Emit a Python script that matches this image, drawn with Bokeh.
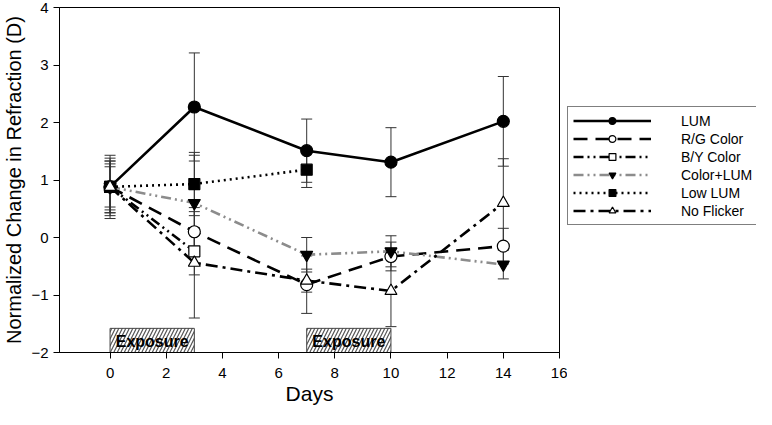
from bokeh.plotting import figure
from bokeh.layouts import row
from bokeh.models import (ColumnDataSource, Whisker, TeeHead, Legend, LegendItem,
                          Range1d, FixedTicker)
from bokeh.core.properties import value
from bokeh.embed import file_html
from bokeh.resources import INLINE

# ---------------- data ----------------
days_full = [0, 3, 7, 10, 14]
lum = [0.88, 2.27, 1.51, 1.31, 2.02]
lum_err = [0.55, 0.94, 0.55, 0.60, 0.78]

rg = [0.88, 0.10, -0.82, -0.33, -0.15]
rg_err = [0.45, 0.35, 0.50, 0.25, 0.31]

days_by = [0, 3]
by = [0.88, -0.24]
by_err = [0.40, 0.41]

colum = [0.88, 0.60, -0.30, -0.24, -0.47]
colum_err = [0.50, 0.83, 0.30, 0.27, 0.25]

days_low = [0, 3, 7]
lowlum = [0.88, 0.93, 1.18]
lowlum_err = [0.35, 0.55, 0.31]

noflk = [0.88, -0.44, -0.75, -0.93, 0.60]
noflk_err = [0.45, 0.96, 0.20, 0.62, 0.77]

exposure_start = [0, 7]
exposure_end = [3, 10]
exposure_top = [-1.58, -1.58]
exposure_label = ["Exposure", "Exposure"]

x_ticks = [0, 2, 4, 6, 8, 10, 12, 14, 16]
y_ticks = [-2, -1, 0, 1, 2, 3, 4]

FONT = "Liberation Sans"

p = figure(width=567, height=409, x_range=Range1d(-1.8, 16), y_range=Range1d(-2, 4),
           output_backend="svg", toolbar_location=None,
           min_border_left=59, min_border_right=8, min_border_top=7,
           min_border_bottom=57)
p.background_fill_color = "white"
p.border_fill_color = "white"
p.outline_line_color = "black"
p.outline_line_width = 1
p.grid.visible = False

for ax in (p.xaxis[0], p.yaxis[0]):
    ax.axis_line_color = "black"
    ax.major_tick_in = 0
    ax.major_tick_out = 6
    ax.minor_tick_line_color = None
    ax.major_label_text_font = FONT
    ax.major_label_text_font_size = "15px"
    ax.major_label_text_color = "black"
    ax.axis_label_text_font = FONT
    ax.axis_label_text_font_style = "normal"
    ax.axis_label_text_color = "black"

p.xaxis.ticker = FixedTicker(ticks=x_ticks)
p.yaxis.ticker = FixedTicker(ticks=y_ticks)
p.xaxis.axis_label = "Days"
p.yaxis.axis_label = "Normalized Change in Refraction (D)"
p.xaxis.axis_label_text_font_size = "21px"
p.yaxis.axis_label_text_font_size = "20px"
p.xaxis.major_label_standoff = 9
p.yaxis.major_label_standoff = 5
p.xaxis.axis_label_standoff = 1
p.yaxis.axis_label_standoff = 3

# exposure boxes
exp_src = ColumnDataSource(dict(left=exposure_start, right=exposure_end,
                                top=exposure_top, bottom=[-2] * len(exposure_start),
                                mid=[(a + b) / 2 for a, b in zip(exposure_start, exposure_end)],
                                label=exposure_label))
p.quad(left="left", right="right", top="top", bottom="bottom", source=exp_src,
       fill_color="white", line_color="#444444", line_width=1,
       hatch_pattern="/", hatch_color="#555555", hatch_scale=7, hatch_weight=1.2)
p.text(x="mid", y=-1.8, text="label", source=exp_src, text_font=value(FONT),
       text_font_style="bold", text_font_size="16px", text_align="center",
       text_baseline="middle", text_color="black")


def err_src(xs, ys, es):
    return ColumnDataSource(dict(x=xs, upper=[y + e for y, e in zip(ys, es)],
                                 lower=[y - e for y, e in zip(ys, es)]))


series = [
    ("LUM", days_full, lum, lum_err, "black", "solid", "circle", "black"),
    ("R/G Color", days_full, rg, rg_err, "black", "14 8", "circle", "white"),
    ("B/Y Color", days_by, by, by_err, "black", "10 4 2 4 2 4", "square", "white"),
    ("Color+LUM", days_full, colum, colum_err, "#8c8c8c", "10 4 2 4 2 4", "inverted_triangle", "black"),
    ("Low LUM", days_low, lowlum, lowlum_err, "black", "2 4", "square", "black"),
    ("No Flicker", days_full, noflk, noflk_err, "black", "12 5 3 5", "triangle", "white"),
]

# error bars first
for name, xs, ys, es, col, dash, mk, fill in series:
    w = Whisker(base="x", upper="upper", lower="lower", source=err_src(xs, ys, es),
                line_color="#333333", line_width=1,
                upper_head=TeeHead(size=11, line_color="#333333", line_width=1),
                lower_head=TeeHead(size=11, line_color="#333333", line_width=1))
    p.add_layout(w)

for name, xs, ys, es, col, dash, mk, fill in series:
    p.line(xs, ys, line_color=col, line_width=2.6, line_dash=dash)

for (name, xs, ys, es, col, dash, mk, fill) in series:
    size = 11 if mk == "square" else 12
    p.scatter(xs, ys, marker=mk, size=size, fill_color=fill, line_color="black",
              line_width=1.2)

# ---------------- legend panel (separate figure, same series) ----------------
lg = figure(width=189, height=409, x_range=Range1d(-100, -99), y_range=Range1d(-100, -99),
            output_backend="svg", toolbar_location=None,
            x_axis_location=None, y_axis_location=None,
            min_border_left=0, min_border_right=0, min_border_top=0, min_border_bottom=0)
lg.outline_line_color = None
lg.grid.visible = False
lg.background_fill_color = "white"
lg.border_fill_color = "white"

items = []
for (name, xs, ys, es, col, dash, mk, fill) in series:
    size = 11 if mk == "square" else 12
    lr = lg.line(xs, ys, line_color=col, line_width=2.6, line_dash=dash)
    sr = lg.scatter(xs, ys, marker=mk, size=size, fill_color=fill, line_color="black",
                    line_width=1.2)
    items.append(LegendItem(label=name, renderers=[lr, sr]))

legend = Legend(items=items, location=(0, 127), orientation="vertical",
                glyph_width=78, glyph_height=17, label_height=17, spacing=1,
                label_standoff=30, padding=5, margin=0,
                label_text_font=FONT, label_text_font_size="14px",
                label_text_color="black",
                border_line_color="black", border_line_width=1,
                background_fill_color="white")
lg.add_layout(legend)

layout = row(p, lg, spacing=0)
open("out.html", "w").write(file_html(layout, INLINE))
